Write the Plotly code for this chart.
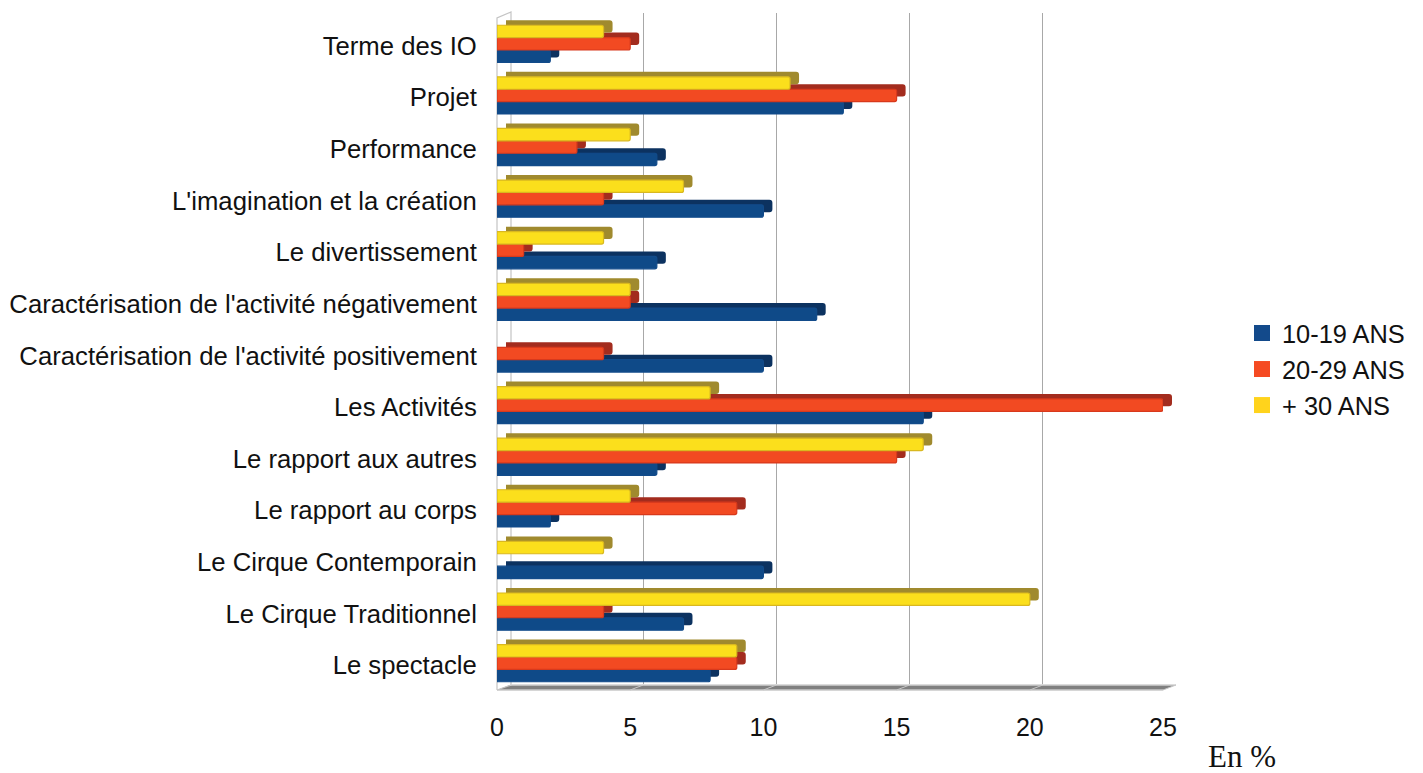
import plotly.graph_objects as go

categories = ["Le spectacle", "Le Cirque Traditionnel", "Le Cirque Contemporain", "Le rapport au corps",
              "Le rapport aux autres", "Les Activités", "Caractérisation de l'activité positivement",
              "Caractérisation de l'activité négativement", "Le divertissement",
              "L'imagination et la création", "Performance", "Projet", "Terme des IO"]
ans_10_19 = [8, 7, 10, 2, 6, 16, 10, 12, 6, 10, 6, 13, 2]
ans_20_29 = [9, 4, None, 9, 15, 25, 4, 5, 1, 4, 3, 15, 5]
ans_30 = [9, 20, 4, 5, 16, 8, None, 5, 4, 7, 5, 11, 4]
series_names = ["10-19 ANS", "20-29 ANS", "+ 30 ANS"]
x_ticks = [0, 5, 10, 15, 20, 25]

W, H = 1423, 773
fx = lambda px: px / W
fy = lambda px: 1 - px / H
FRONT_L, FRONT_R, FRONT_T, FRONT_B = 497, 1163, 18, 689
SHADOW_DX, SHADOW_DY, BACK_DX = 9, 5, 13
SHADOW_BASE = -0.26

front = ["#0f4a88", "#f24a22", "#fbdf1c"]
edge = ["#124b8a", "#d8391c", "#d9b81f"]
dark = ["#0c3260", "#a32c1e", "#a08a2e"]
legend_col = ["#134a8b", "#f54a22", "#ffd31c"]
values = [ans_10_19, ans_20_29, ans_30]

fig = go.Figure()
# invisible trace that carries the back-wall gridlines
fig.add_trace(go.Scatter(x=[None], y=[categories[0]], xaxis="x", yaxis="y", showlegend=False,
                         hoverinfo="skip", mode="markers"))
for i, v in enumerate(values):
    fig.add_trace(go.Bar(y=categories, x=[None if a is None else a - SHADOW_BASE for a in v], base=SHADOW_BASE,
                         orientation="h", xaxis="x2", yaxis="y", showlegend=False,
                         marker=dict(color=dark[i], cornerradius=3, line=dict(width=0)),
                         offsetgroup=str(i), hoverinfo="skip"))
for i, v in enumerate(values):
    fig.add_trace(go.Bar(y=categories, x=v, orientation="h", xaxis="x3", yaxis="y2", name=series_names[i],
                         showlegend=False, legendgroup=series_names[i],
                         marker=dict(color=front[i], cornerradius=2, line=dict(width=1.2, color=edge[i])),
                         offsetgroup=str(i)))
for i, n in enumerate(series_names):
    fig.add_trace(go.Scatter(x=[None], y=[None], xaxis="x3", yaxis="y2", mode="markers", name=n,
                             legendgroup=n,
                             marker=dict(symbol="square", size=16, color=legend_col[i])))

xr = [0, 25]
yr = [-0.5, 12.5]
hidden = dict(showticklabels=False, showgrid=False, zeroline=False, showline=False, ticks="")

shapes = [
    dict(type="path", xref="paper", yref="paper", layer="below", line=dict(width=0), fillcolor="#808080",
         path=f"M{fx(497)},{fy(690)} L{fx(1163)},{fy(690)} L{fx(1176)},{fy(685)} L{fx(510)},{fy(685)} Z"),
    dict(type="path", xref="paper", yref="paper", layer="below", line=dict(width=1.2, color="#c4c4c4"),
         path=f"M{fx(497)},{fy(690)} L{fx(497)},{fy(18)} L{fx(511)},{fy(12)} L{fx(511)},{fy(685)} L{fx(497)},{fy(690)}"),
    dict(type="line", xref="paper", yref="paper", layer="below", line=dict(width=1.5, color="#c8c8c8"),
         x0=fx(497), x1=fx(1163), y0=fy(690), y1=fy(690)),
    dict(type="line", xref="paper", yref="paper", layer="below", line=dict(width=1.5, color="#d0d0d0"),
         x0=fx(510), x1=fx(1176), y0=fy(685), y1=fy(685)),
]
for k in range(1, 6):
    px = 497 + k * 133.2
    shapes.append(dict(type="line", xref="paper", yref="paper", layer="below",
                       line=dict(width=1, color="#c8c8c8"),
                       x0=fx(px), x1=fx(px + 13), y0=fy(690), y1=fy(685)))

fig.update_layout(
    width=W, height=H, margin=dict(l=0, r=0, t=0, b=0, autoexpand=False),
    paper_bgcolor="white", plot_bgcolor="rgba(0,0,0,0)",
    barmode="group", bargap=0.28, bargroupgap=0,
    font=dict(family="Liberation Sans", size=24, color="#111111"),
    shapes=shapes,
    xaxis=dict(domain=[fx(FRONT_L + BACK_DX), fx(FRONT_R + BACK_DX)], range=xr, anchor="y",
               tickvals=x_ticks, showticklabels=False, showgrid=True, gridcolor="#a8a8a8", gridwidth=1.2,
               zeroline=False, showline=False, ticks=""),
    xaxis2=dict(domain=[fx(FRONT_L + SHADOW_DX), fx(FRONT_R + SHADOW_DX)], range=xr, anchor="y", **hidden),
    xaxis3=dict(domain=[fx(FRONT_L), fx(FRONT_R)], range=xr, anchor="y2",
                tickvals=x_ticks, showgrid=False, zeroline=False, showline=False,
                ticks="outside", ticklen=16, tickcolor="rgba(0,0,0,0)",
                tickfont=dict(size=25, family="Liberation Sans")),
    yaxis=dict(domain=[fy(FRONT_B - SHADOW_DY), fy(FRONT_T - SHADOW_DY)], range=yr, anchor="x",
               type="category", categoryorder="array", categoryarray=categories, **hidden),
    yaxis2=dict(domain=[fy(FRONT_B), fy(FRONT_T)], range=yr, anchor="x3",
                type="category", categoryorder="array", categoryarray=categories,
                showgrid=False, zeroline=False, showline=False,
                ticks="outside", ticklen=14, tickcolor="rgba(0,0,0,0)", ticklabelshift=2,
                tickfont=dict(size=25.7, family="Liberation Sans")),
    legend=dict(x=fx(1242), y=fy(310), xanchor="left", yanchor="top", bgcolor="rgba(0,0,0,0)",
                font=dict(size=25.4, family="Liberation Sans"), itemwidth=30, tracegroupgap=0,
                traceorder="normal", entrywidth=130, entrywidthmode="pixels"),
    annotations=[dict(text="En\u00a0%", x=fx(1242), y=fy(756), xref="paper", yref="paper", showarrow=False,
                      xanchor="center", yanchor="middle",
                      font=dict(family="Liberation Serif", size=31, color="#111111"))],
)
fig.write_html("out.html", config={"displayModeBar": False},
               post_script="document.body.style.margin='0';document.body.style.overflow='hidden';")
